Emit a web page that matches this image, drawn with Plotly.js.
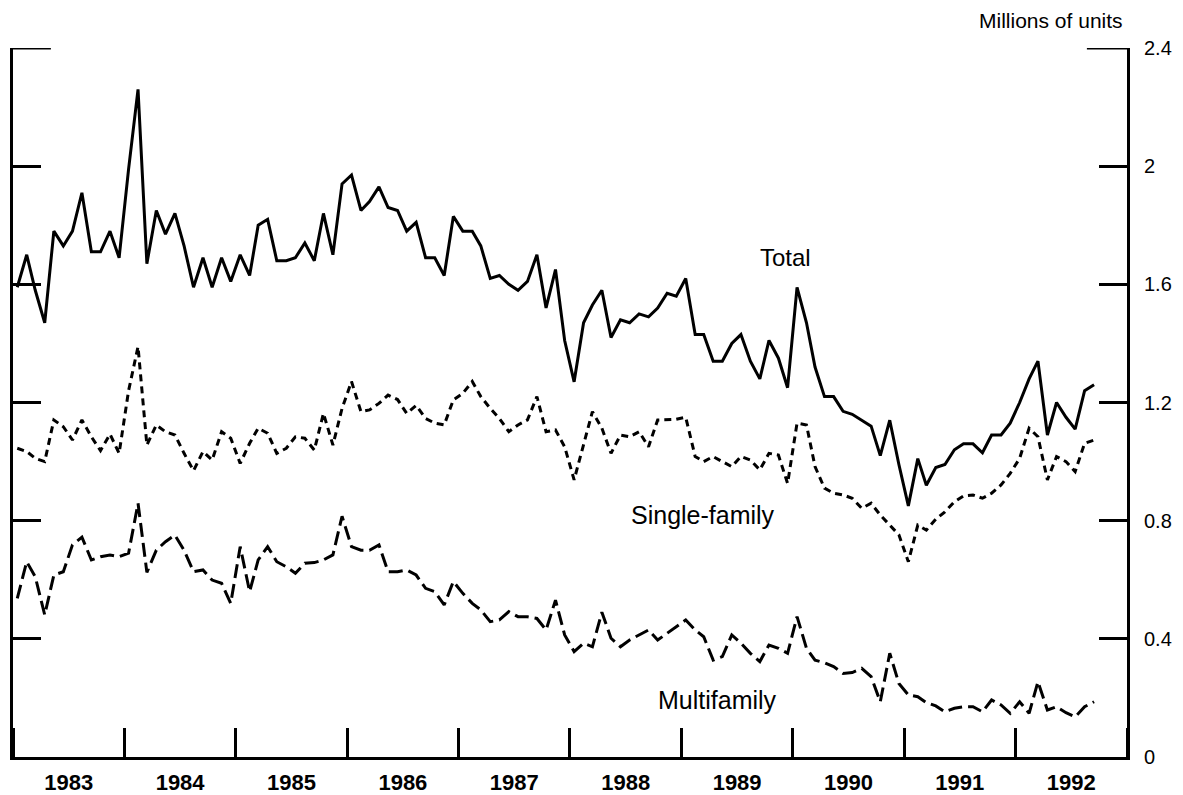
<!DOCTYPE html>
<html>
<head>
<meta charset="utf-8">
<script src="https://cdn.plot.ly/plotly-3.0.1.min.js"></script>
<style>
  html, body { margin: 0; padding: 0; background: #fff; }
  #chart { width: 1183px; height: 795px; }
</style>
</head>
<body>
<div id="chart"></div>
<script>
// Monthly housing starts, millions of units (Jan 1983 - Sep 1992)
const startYear = 1983;

const total = [
  1.59, 1.70, 1.58, 1.47, 1.78, 1.73, 1.78, 1.91, 1.71, 1.71, 1.78, 1.69,
  1.99, 2.26, 1.67, 1.85, 1.77, 1.84, 1.73, 1.59, 1.69, 1.59, 1.69, 1.61,
  1.70, 1.63, 1.80, 1.82, 1.68, 1.68, 1.69, 1.74, 1.68, 1.84, 1.70, 1.94,
  1.97, 1.85, 1.88, 1.93, 1.86, 1.85, 1.78, 1.81, 1.69, 1.69, 1.63, 1.83,
  1.78, 1.78, 1.73, 1.62, 1.63, 1.60, 1.58, 1.61, 1.70, 1.52, 1.65, 1.41,
  1.27, 1.47, 1.53, 1.58, 1.42, 1.48, 1.47, 1.50, 1.49, 1.52, 1.57, 1.56,
  1.62, 1.43, 1.43, 1.34, 1.34, 1.40, 1.43, 1.34, 1.28, 1.41, 1.35, 1.25,
  1.59, 1.47, 1.32, 1.22, 1.22, 1.17, 1.16, 1.14, 1.12, 1.02, 1.14, 0.99,
  0.85, 1.01, 0.92, 0.98, 0.99, 1.04, 1.06, 1.06, 1.03, 1.09, 1.09, 1.13,
  1.20, 1.28, 1.34, 1.09, 1.20, 1.15, 1.11, 1.24, 1.26
];

const singleFamily = [
  1.045, 1.034, 1.011, 1.000, 1.141, 1.118, 1.073, 1.141, 1.084, 1.037, 1.093, 1.028,
  1.240, 1.389, 1.056, 1.124, 1.101, 1.090, 1.028, 0.969, 1.034, 1.005, 1.101, 1.079,
  0.994, 1.062, 1.113, 1.096, 1.028, 1.045, 1.084, 1.079, 1.039, 1.163, 1.056, 1.180,
  1.271, 1.169, 1.175, 1.197, 1.225, 1.210, 1.163, 1.190, 1.146, 1.130, 1.124, 1.209,
  1.231, 1.271, 1.220, 1.180, 1.146, 1.101, 1.124, 1.141, 1.220, 1.101, 1.107, 1.050,
  0.938, 1.062, 1.169, 1.113, 1.028, 1.090, 1.084, 1.101, 1.050, 1.141, 1.141, 1.143,
  1.150, 1.017, 1.000, 1.017, 1.000, 0.983, 1.017, 1.005, 0.972, 1.028, 1.022, 0.926,
  1.130, 1.124, 0.983, 0.910, 0.893, 0.887, 0.876, 0.842, 0.859, 0.819, 0.785, 0.752,
  0.661, 0.785, 0.768, 0.805, 0.830, 0.864, 0.884, 0.887, 0.876, 0.893, 0.921, 0.960,
  1.011, 1.113, 1.084, 0.938, 1.017, 1.000, 0.966, 1.062, 1.073
];

const multiFamily = [
  0.537, 0.661, 0.610, 0.481, 0.616, 0.627, 0.718, 0.744, 0.667, 0.678, 0.684, 0.678,
  0.690, 0.859, 0.625, 0.700, 0.729, 0.751, 0.700, 0.627, 0.633, 0.599, 0.588, 0.520,
  0.712, 0.560, 0.667, 0.712, 0.661, 0.644, 0.622, 0.656, 0.658, 0.667, 0.684, 0.815,
  0.712, 0.700, 0.700, 0.718, 0.627, 0.627, 0.633, 0.616, 0.571, 0.560, 0.515, 0.594,
  0.554, 0.520, 0.498, 0.458, 0.464, 0.492, 0.475, 0.475, 0.469, 0.430, 0.531, 0.413,
  0.357, 0.385, 0.373, 0.490, 0.402, 0.373, 0.396, 0.413, 0.430, 0.396, 0.419, 0.441,
  0.464, 0.430, 0.407, 0.328, 0.340, 0.413, 0.385, 0.351, 0.323, 0.379, 0.368, 0.351,
  0.475, 0.368, 0.328, 0.319, 0.306, 0.283, 0.286, 0.300, 0.272, 0.187, 0.351, 0.249,
  0.210, 0.204, 0.184, 0.173, 0.153, 0.165, 0.170, 0.170, 0.153, 0.193, 0.176, 0.148,
  0.187, 0.148, 0.255, 0.159, 0.170, 0.150, 0.136, 0.170, 0.187
];

const yTickVals = [0, 0.4, 0.8, 1.2, 1.6, 2, 2.4];
const yTickText = ["0", "0.4", "0.8", "1.2", "1.6", "2", "2.4"];

const seriesLabels = { total: "Total", single: "Single-family", multi: "Multifamily" };
const unitLabel = "Millions of units";

function monthDates(n) {
  const out = [];
  for (let i = 0; i < n; i++) {
    const y = startYear + Math.floor(i / 12);
    const m = (i % 12) + 1;
    out.push(y + "-" + String(m).padStart(2, "0") + "-15");
  }
  return out;
}
const months = monthDates(total.length);

const FONT = "Liberation Sans, Arial, Helvetica, sans-serif";

const traces = [
  { x: months, y: total, type: "scatter", mode: "lines", name: seriesLabels.total,
    line: { color: "#000", width: 3 } },
  { x: months, y: singleFamily, type: "scatter", mode: "lines", name: seriesLabels.single,
    line: { color: "#000", width: 3, dash: "7px,5px" } },
  { x: months, y: multiFamily, type: "scatter", mode: "lines", name: seriesLabels.multi,
    line: { color: "#000", width: 3, dash: "14px,6px" } }
];

const layout = {
  width: 1183, height: 795,
  margin: { l: 13, r: 56, t: 48, b: 38 },
  paper_bgcolor: "#fff", plot_bgcolor: "#fff",
  showlegend: false,
  font: { family: FONT, color: "#000" },
  xaxis: {
    type: "date",
    range: ["1983-01-01", "1993-01-01"],
    tick0: "1983-01-01", dtick: "M12",
    ticklabelmode: "period", tickformat: "%Y",
    ticks: "inside", ticklen: 29, tickwidth: 3, tickcolor: "#000",
    showline: true, linewidth: 3, linecolor: "#000",
    showgrid: false, zeroline: false,
    tickfont: { family: FONT, size: 22, color: "#000", weight: "bold" },
    ticklabelstandoff: 4
  },
  yaxis: {
    side: "right",
    range: [0, 2.4],
    tickvals: yTickVals, ticktext: yTickText,
    ticks: "inside", ticklen: 28, tickwidth: 3, tickcolor: "#000",
    showline: true, linewidth: 3, linecolor: "#000", mirror: "ticks",
    showgrid: false, zeroline: false,
    tickfont: { family: FONT, size: 20, color: "#000" },
    ticklabelstandoff: 10
  },
  shapes: [
    { type: "line", xref: "paper", yref: "y", x0: 0, x1: 0.034, y0: 2.4, y1: 2.4,
      line: { color: "#000", width: 3 } },
    { type: "line", xref: "paper", yref: "y", x0: 0.964, x1: 1, y0: 2.4, y1: 2.4,
      line: { color: "#000", width: 3 } }
  ],
  annotations: [
    { xref: "paper", yref: "paper", x: 0.998, y: 1.0385, xanchor: "right", yanchor: "middle",
      text: unitLabel, showarrow: false, font: { family: FONT, size: 21, color: "#000" } },
    { xref: "paper", yref: "paper", x: 0.693, y: 0.704, xanchor: "center", yanchor: "middle",
      text: seriesLabels.total, showarrow: false, font: { family: FONT, size: 24, color: "#000" } },
    { xref: "paper", yref: "paper", x: 0.619, y: 0.341, xanchor: "center", yanchor: "middle",
      text: seriesLabels.single, showarrow: false, font: { family: FONT, size: 25, color: "#000" } },
    { xref: "paper", yref: "paper", x: 0.632, y: 0.0804, xanchor: "center", yanchor: "middle",
      text: seriesLabels.multi, showarrow: false, font: { family: FONT, size: 25, color: "#000" } }
  ]
};

Plotly.newPlot("chart", traces, layout, { staticPlot: true, displayModeBar: false });
</script>
</body>
</html>
